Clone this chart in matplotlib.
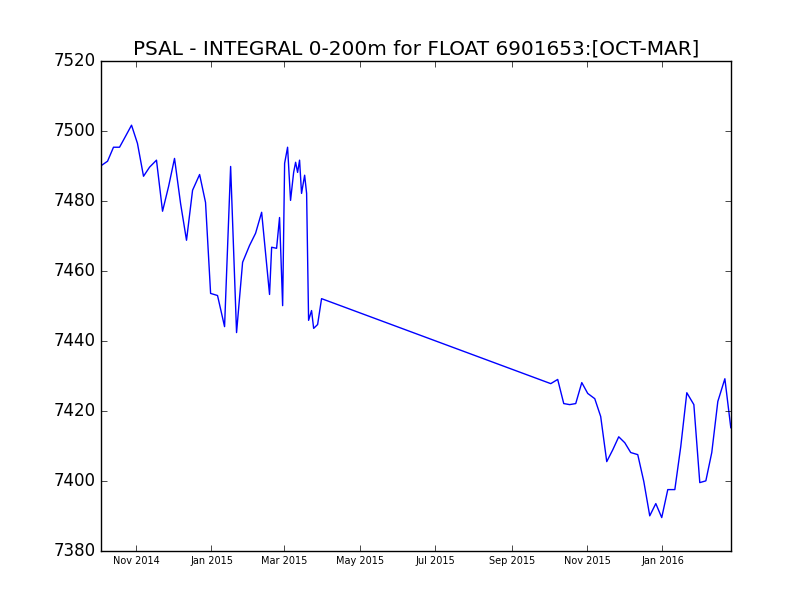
import datetime
import matplotlib
matplotlib.use("Agg")
from matplotlib import pyplot as plt
import matplotlib.dates as mdates

# days since 2014-10-04, and the integrated salinity
start = datetime.datetime(2014, 10, 4)
days = [0, 4.9, 9.7, 14.6, 19.4, 24.3, 29.1, 34, 38.9, 44.5, 49.4, 54.3, 59.1, 64,
        68.8, 73.7, 79.4, 84.2, 88.3, 93.9, 99.6, 104.5, 109.3, 114.2, 119.8, 124.7,
        129.6, 136, 137.7, 141.7, 144.1, 146.6, 148.2, 150.6, 153, 155.5, 157.1,
        158.7, 160.3, 161.9, 164.4, 166, 167.6, 170, 171.7, 174.9, 178.1, 363.6,
        369.2, 374.1, 378.9, 383.8, 388.7, 393.5, 399.2, 404, 408.9, 413.8, 418.6,
        423.5, 428.3, 434, 438.9, 443.7, 448.6, 453.4, 458.3, 464, 468.8, 473.7,
        479.4, 484.2, 489.1, 493.9, 498.8, 504.5, 509.3]
psal = [7490.2, 7491.4, 7495.4, 7495.4, 7498.5, 7501.7, 7496.5, 7487.1, 7489.7,
        7491.7, 7477.1, 7484.2, 7492.2, 7479.3, 7468.8, 7483.1, 7487.6, 7479.6,
        7453.6, 7453.0, 7444.1, 7489.9, 7442.4, 7462.5, 7467.3, 7470.8, 7476.8,
        7453.3, 7466.8, 7466.5, 7475.3, 7450.1, 7490.8, 7495.4, 7480.2, 7488.2,
        7491.1, 7488.2, 7491.7, 7482.2, 7487.4, 7482.2, 7445.9, 7448.7, 7443.6,
        7444.7, 7452.1, 7427.8, 7429.0, 7422.1, 7421.8, 7422.1, 7428.1, 7425.0,
        7423.5, 7418.4, 7405.5, 7408.9, 7412.6, 7410.9, 7408.1, 7407.5, 7399.8,
        7390.0, 7393.5, 7389.5, 7397.5, 7397.5, 7409.8, 7425.2, 7421.8, 7399.5,
        7400.0, 7408.1, 7422.7, 7429.2, 7415.2]

dates = [start + datetime.timedelta(days=d) for d in days]

plt.style.use("classic")
fig, ax = plt.subplots(figsize=(8.12, 6.12), dpi=100, facecolor="white")
ax.plot(dates, psal, color="blue")
ax.set_xlim(dates[0], dates[-1])
ax.set_ylim(7380, 7520)
ax.xaxis.set_major_locator(mdates.MonthLocator(bymonth=[1, 3, 5, 7, 9, 11]))
ax.xaxis.set_major_formatter(mdates.DateFormatter("%b %Y"))
ax.tick_params(axis="x", labelsize=7)
ax.set_title("PSAL - INTEGRAL 0-200m for FLOAT 6901653:[OCT-MAR]")
fig.savefig("out.png", facecolor="white")
